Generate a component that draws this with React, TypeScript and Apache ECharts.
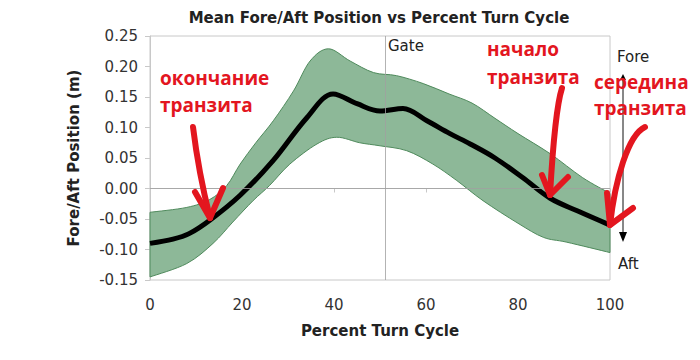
import React, { useEffect, useRef } from "react";
import * as echarts from "echarts";

const xTicks = [0, 20, 40, 60, 80, 100];
const yTicks = [-0.15, -0.1, -0.05, 0, 0.05, 0.1, 0.15, 0.2, 0.25];

const meanPct = [0, 5, 8.5, 13, 19.6, 26.8, 34.1, 39.8, 45, 50, 55, 60.2, 65.2, 69.6, 75, 81, 87, 93, 100];
const meanVal = [-0.09, -0.083, -0.074, -0.052, -0.011, 0.046, 0.116, 0.155, 0.139, 0.127, 0.131, 0.111, 0.09, 0.073, 0.05, 0.018, -0.016, -0.037, -0.06];

const upperPct = [0, 8, 13, 16.7, 19.6, 23, 26.8, 31.2, 34.8, 38.8, 43.5, 48.6, 53.6, 59.4, 65, 70, 75, 80, 87, 94, 100];
const upperVal = [-0.039, -0.031, -0.018, 0.005, 0.04, 0.075, 0.111, 0.16, 0.209, 0.229, 0.209, 0.19, 0.185, 0.172, 0.155, 0.14, 0.115, 0.09, 0.057, 0.018, -0.008];

const lowerPct = [0, 8, 13.7, 18, 22.4, 26, 30.4, 36.3, 40.6, 45.6, 50, 55.8, 61.5, 66.7, 72.4, 80, 85.5, 90.6, 100];
const lowerVal = [-0.145, -0.123, -0.09, -0.055, -0.02, 0.005, 0.04, 0.073, 0.084, 0.075, 0.07, 0.062, 0.04, 0.013, -0.02, -0.057, -0.08, -0.088, -0.105];

const gatePct = 51.2;

const title = "Mean Fore/Aft Position vs Percent Turn Cycle";
const xName = "Percent Turn Cycle";
const yName = "Fore/Aft Position (m)";

const RED = "#e3161f";

function splinePath(pts: number[][], k: number, move: boolean): string {
  let d = move ? `M${pts[0][0]},${pts[0][1]}` : `L${pts[0][0]},${pts[0][1]}`;
  for (let i = 0; i < pts.length - 1; i++) {
    const p0 = pts[Math.max(0, i - 1)];
    const p1 = pts[i];
    const p2 = pts[i + 1];
    const p3 = pts[Math.min(pts.length - 1, i + 2)];
    const c1x = p1[0] + ((p2[0] - p0[0]) / 6) * k;
    const c1y = p1[1] + ((p2[1] - p0[1]) / 6) * k;
    const c2x = p2[0] - ((p3[0] - p1[0]) / 6) * k;
    const c2y = p2[1] - ((p3[1] - p1[1]) / 6) * k;
    d += ` C${c1x},${c1y} ${c2x},${c2y} ${p2[0]},${p2[1]}`;
  }
  return d;
}

export default function App() {
  const ref = useRef<HTMLDivElement>(null);
  useEffect(() => {
    if (!ref.current) return;
    const chart = echarts.init(ref.current, null, { renderer: "svg" });
    const font = "DejaVu Sans";
    const redStroke = { stroke: RED, lineWidth: 6, lineCap: "round", lineJoin: "round", fill: "none" };
    const option: any = {
      animation: false,
      backgroundColor: "#ffffff",
      title: {
        text: title,
        left: 374,
        top: 5,
        textAlign: "center",
        textStyle: { fontFamily: font, fontWeight: "bold", fontSize: 15, color: "#222" },
      },
      grid: {
        left: 150,
        right: 90,
        top: 36,
        bottom: 80,
        show: true,
        borderColor: "#c8c8c8",
        borderWidth: 1,
        backgroundColor: "transparent",
      },
      xAxis: {
        type: "value",
        min: 0,
        max: 100,
        interval: 20,
        name: xName,
        nameLocation: "middle",
        nameGap: 43,
        nameTextStyle: { fontFamily: font, fontWeight: "bold", fontSize: 15, color: "#222" },
        axisLine: { show: true, lineStyle: { color: "#c8c8c8", width: 1 } },
        axisTick: { show: true, length: 4, lineStyle: { color: "#c8c8c8" } },
        splitLine: { show: false },
        axisLabel: { fontFamily: font, fontSize: 15, color: "#333", margin: 17 },
      },
      yAxis: {
        type: "value",
        min: -0.15,
        max: 0.25,
        interval: 0.05,
        name: yName,
        nameLocation: "middle",
        nameGap: 69,
        nameTextStyle: { fontFamily: font, fontWeight: "bold", fontSize: 15, color: "#222" },
        axisLine: { show: true, lineStyle: { color: "#c8c8c8", width: 1 } },
        axisTick: { show: true, length: 5, lineStyle: { color: "#c8c8c8" } },
        splitLine: { show: false },
        axisLabel: {
          fontFamily: font,
          fontSize: 15,
          color: "#333",
          margin: 12,
          formatter: (v: number) => v.toFixed(2),
        },
      },
      series: [
        {
          type: "custom",
          z: 2,
          silent: true,
          data: [[0, 0]],
          renderItem: (params: any, api: any) => {
            const up = upperPct.map((p, i) => api.coord([p, upperVal[i]]));
            const lo = lowerPct.map((p, i) => api.coord([p, lowerVal[i]])).reverse();
            const d = splinePath(up, 1, true) + " " + splinePath(lo, 1, false) + " Z";
            return {
              type: "path",
              shape: { pathData: d },
              style: { fill: "#8db898", stroke: "#4f8a5c", lineWidth: 1 },
            };
          },
        },
        {
          type: "line",
          z: 3,
          data: [],
          silent: true,
          markLine: {
            silent: true,
            symbol: "none",
            label: { show: false },
            lineStyle: { color: "#a0a0a0", width: 1, type: "solid", opacity: 0.8 },
            data: [{ xAxis: gatePct }, { yAxis: 0 }],
          },
        },
        {
          type: "line",
          z: 4,
          data: meanPct.map((p, i) => [p, meanVal[i]]),
          smooth: 0.35,
          showSymbol: false,
          lineStyle: { color: "#000", width: 5 },
        },
      ],
      graphic: [
        { type: "text", z: 100, left: 388, top: 38, style: { text: "Gate", font: `15px ${font}`, fill: "#222" } },
        { type: "text", z: 100, left: 617, top: 49, style: { text: "Fore", font: `15px ${font}`, fill: "#222" } },
        { type: "text", z: 100, left: 618, top: 256, style: { text: "Aft", font: `15px ${font}`, fill: "#222" } },
        { type: "line", z: 100, shape: { x1: 623, y1: 76, x2: 623, y2: 236 }, style: { stroke: "#111", lineWidth: 1 } },
        { type: "polygon", z: 100, shape: { points: [[619, 232], [627, 232], [623, 242]] }, style: { fill: "#000" } },
        { type: "polygon", z: 100, shape: { points: [[620, 80], [626, 80], [623, 74]] }, style: { fill: "#000" } },
        {
          type: "text", z: 100, left: 160, top: 64,
          style: { text: "окончание\nтранзита", font: `bold 19px "Open Sans"`, fill: RED, lineHeight: 27 },
        },
        {
          type: "text", z: 100, left: 487, top: 35,
          style: { text: "начало\nтранзита", font: `bold 19px "Open Sans"`, fill: RED, lineHeight: 28 },
        },
        {
          type: "text", z: 100, left: 594, top: 69,
          style: { text: "середина\nтранзита", font: `bold 19px "Open Sans"`, fill: RED, lineHeight: 26 },
        },
        {
          type: "bezierCurve", z: 100,
          shape: { x1: 193, y1: 127, cpx1: 197, cpy1: 160, cpx2: 203, cpy2: 190, x2: 210, y2: 218 },
          style: redStroke,
        },
        { type: "polyline", z: 100, shape: { points: [[195, 192], [210, 218], [223, 188]] }, style: redStroke },
        {
          type: "bezierCurve", z: 100,
          shape: { x1: 562, y1: 88, cpx1: 555, cpy1: 110, cpx2: 552, cpy2: 160, x2: 550, y2: 195 },
          style: redStroke,
        },
        { type: "polyline", z: 100, shape: { points: [[542, 175], [550, 195], [568, 177]] }, style: redStroke },
        {
          type: "bezierCurve", z: 100,
          shape: { x1: 645, y1: 127, cpx1: 628, cpy1: 135, cpx2: 615, cpy2: 180, x2: 610, y2: 225 },
          style: redStroke,
        },
        { type: "polyline", z: 100, shape: { points: [[607, 193], [610, 225], [633, 208]] }, style: redStroke },
      ],
    };
    chart.setOption(option);
    return () => chart.dispose();
  }, []);
  return <div ref={ref} style={{ width: 700, height: 360, margin: -8 }} />;
}
